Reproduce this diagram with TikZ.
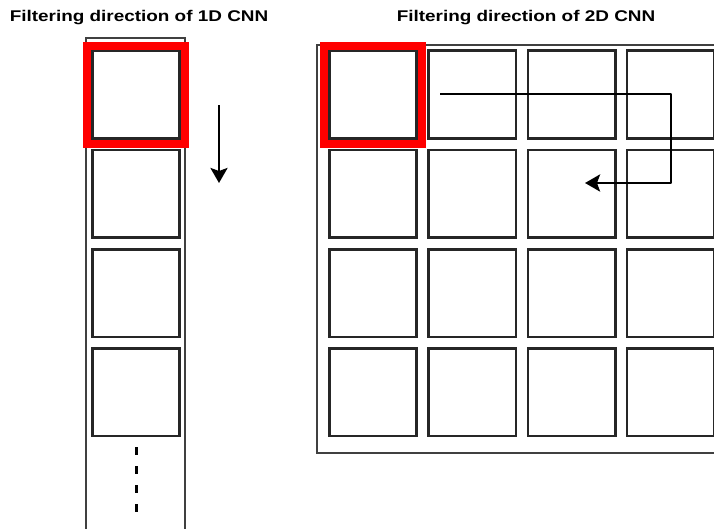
\documentclass[tikz,border=0pt]{standalone}
\usepackage{fontspec}
\setmainfont{Liberation Sans}
\usetikzlibrary{arrows.meta}

\tikzset{
  cell/.style={draw=black!85, line width=2.6pt, minimum size=87.5pt, inner sep=0pt},
  window/.style={draw=red, line width=8pt, minimum size=98pt, inner sep=0pt},
  frame/.style={draw=black!75, line width=2.4pt},
  title/.style={font=\fontsize{15.5}{18}\selectfont\bfseries, xscale=1.22, anchor=base},
  move/.style={line width=2.8pt, line join=round, -{Stealth[length=15pt,width=17pt,inset=3pt]}}
}

\begin{document}
\begin{tikzpicture}[x=1pt, y=-1pt]
  \useasboundingbox (0,0) rectangle (714,528);
  \clip (0,0) rectangle (714,528);

  \node[title] (h1) at (139,21) {Filtering direction of 1D CNN};
  \node[title] (h2) at (526,21) {Filtering direction of 2D CNN};

  % 1D strip
  \draw[frame] (86,540) -- (86,38) -- (185,38) -- (185,540);
  \foreach \i in {1,...,4}
    \node[cell] (o\i) at (136, {94.5+99.3*(\i-1)}) {};
  \node[window] (w1) at (o1) {};
  \draw[line width=3pt, dash pattern=on 8pt off 11pt] (136,447) -- (136,514);
  \coordinate (d0) at (219,105);
  \coordinate (d1) at (219,183);
  \draw[move] (d0) -- (d1);

  % 2D grid
  \draw[frame] (730,45) -- (317,45) -- (317,453) -- (730,453);
  \foreach \i in {1,...,4}
    \foreach \j in {1,...,4}
      \node[cell] (t\i\j) at ({373+99.3*(\j-1)}, {94.5+99.3*(\i-1)}) {};
  \node[window] (w2) at (t11) {};
  \coordinate (s0) at (440,94);
  \coordinate (s1) at (671,183);
  \coordinate (s2) at (585,183);
  \draw[move] (s0) -| (s1) -- (s2);
\end{tikzpicture}
\end{document}
